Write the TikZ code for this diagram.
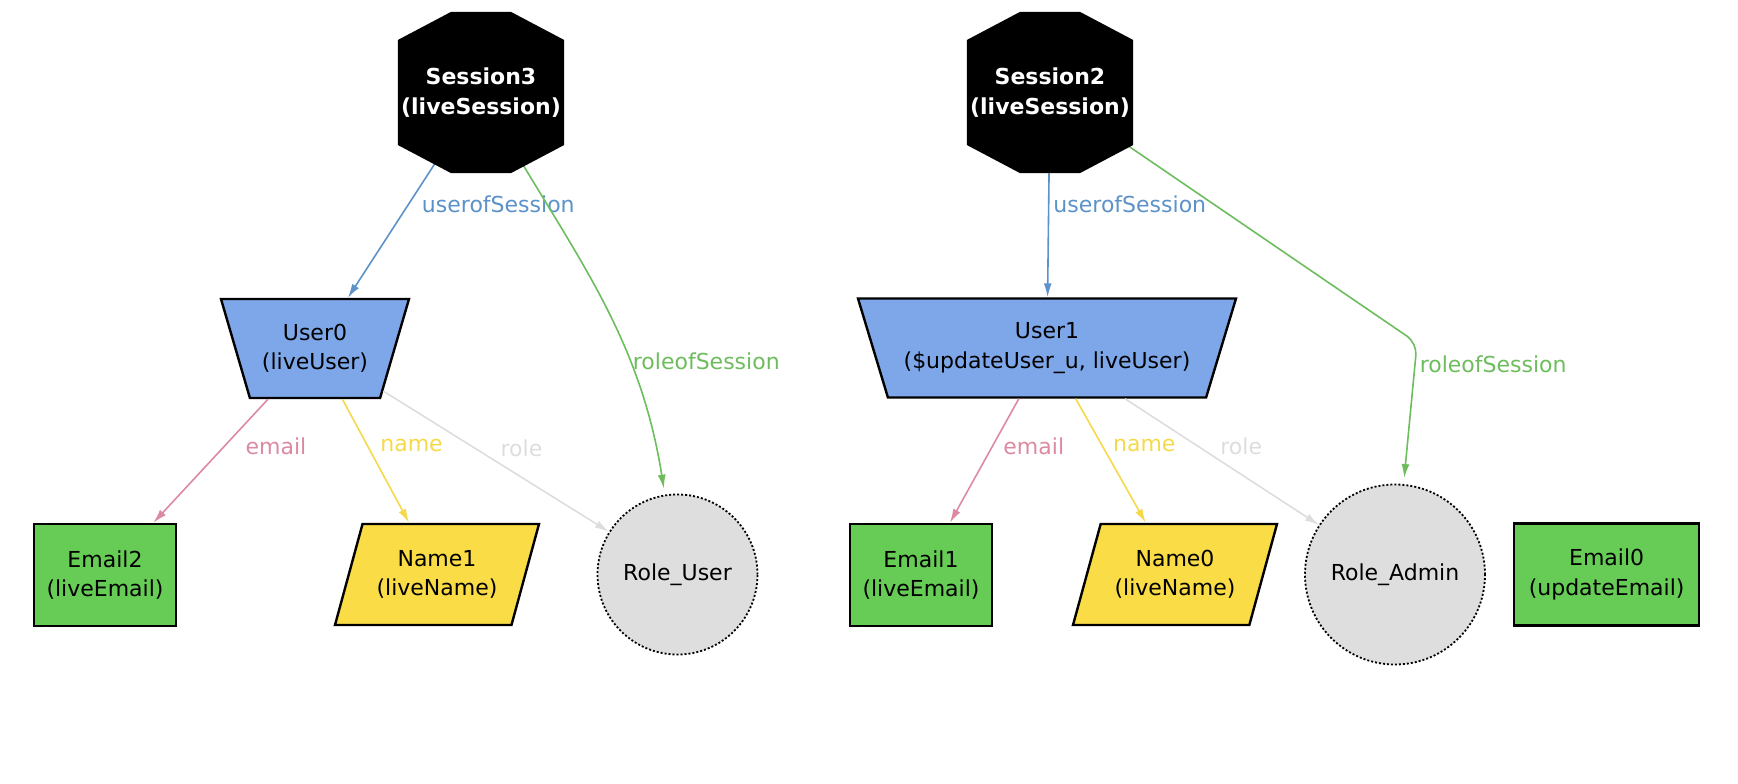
\documentclass[tikz,border=0pt]{standalone}
\usepackage{fontspec}
\setmainfont{DejaVu Sans}
\usepackage{tikz}
\usetikzlibrary{arrows.meta,positioning,calc,shapes.geometric,backgrounds}
\definecolor{ink}{HTML}{000000}
\definecolor{userblue}{HTML}{7DA7E9}
\definecolor{emailgreen}{HTML}{66CC55}
\definecolor{nameyellow}{HTML}{FADC46}
\definecolor{rolegray}{HTML}{DEDEDE}
\definecolor{useredge}{HTML}{5C92C8}
\definecolor{roleofedge}{HTML}{6DBD5E}
\definecolor{emailedge}{HTML}{DC8AA2}
\definecolor{nameedge}{HTML}{F6D94A}
\definecolor{roleedge}{HTML}{DDDDDD}
\tikzset{
  >=Latex,
  every node/.style={font=\fontsize{22}{29.5}\selectfont,text=ink},
  comp/.style={draw=ink,line width=2.4pt,align=center,inner sep=4pt},
  sessbox/.style={rectangle,align=center,text=white,font=\fontsize{22}{30}\selectfont\bfseries,
    minimum width=164pt,minimum height=161pt,
    path picture={\fill[black]
      ([xshift=53pt]path picture bounding box.north west) -- ([xshift=-53pt]path picture bounding box.north east)
      -- ([yshift=-28pt]path picture bounding box.north east) -- ([yshift=28pt]path picture bounding box.south east)
      -- ([xshift=-53pt]path picture bounding box.south east) -- ([xshift=53pt]path picture bounding box.south west)
      -- ([yshift=28pt]path picture bounding box.south west) -- ([yshift=-28pt]path picture bounding box.north west) -- cycle;}},
  userbox/.style={comp,trapezium,trapezium left angle=117,trapezium right angle=117,trapezium stretches body=true,fill=userblue,minimum height=99pt},
  emailbox/.style={comp,rectangle,fill=emailgreen,minimum height=102pt},
  namebox/.style={comp,trapezium,trapezium left angle=64,trapezium right angle=116,trapezium stretches body=true,fill=nameyellow,minimum width=204pt,minimum height=101pt},
  rolecirc/.style={circle,draw=ink,line width=1.8pt,dash pattern=on 2pt off 2pt,fill=rolegray,align=center},
  rel/.style={-{Latex[length=14pt,width=8pt]},line width=1.6pt},
  userof/.style={rel,draw=useredge},
  roleof/.style={rel,draw=roleofedge,shorten >=6pt},
  emailrel/.style={rel,draw=emailedge},
  namerel/.style={rel,draw=nameedge},
  rolerel/.style={rel,draw=roleedge},
  lbl/.style={anchor=west,inner sep=0pt,text=#1}
}
\begin{document}
\begin{tikzpicture}[x=1pt,y=1pt]
  \useasboundingbox (0,0) rectangle (1738,-784);
  % left session
  \node[sessbox] (s3) at (481,-92.5) {Session3\\(liveSession)};
  \node[userbox,minimum width=188pt] (u0) at (315,-348.5) {User0\\(liveUser)};
  \node[emailbox,minimum width=142pt] (e2) at (105,-575) {Email2\\(liveEmail)};
  \node[namebox] (n1) at (437,-574.5) {Name1\\(liveName)};
  \node[rolecirc,minimum size=160pt] (ru) at (677.5,-574.5) {Role\_User};

  % right session
  \node[sessbox] (s2) at (1050,-92.5) {Session2\\(liveSession)};
  \node[userbox,minimum width=378pt] (u1) at (1047,-348) {User1\\(\$updateUser\_u, liveUser)};
  \node[emailbox,minimum width=142pt] (e1) at (921,-575) {Email1\\(liveEmail)};
  \node[namebox] (n0) at (1175,-574.5) {Name0\\(liveName)};
  \node[rolecirc,minimum size=180pt] (ra) at (1395,-574.5) {Role\_Admin};
  \node[emailbox,minimum width=185pt,right=27pt of ra] (e0) {Email0\\(updateEmail)};

  % session edges start under the octagons
  \begin{scope}[on background layer]
    \draw[userof] (s3.center) -- node[lbl=useredge,pos=0.547,xshift=13pt]{userofSession} (u0);
    \draw[roleof] (s3.center) to[out=-61,in=99] node[lbl=roleofedge,pos=0.70,xshift=3pt]{roleofSession} (ru);
    \coordinate (bend2) at (1417,-343);
    \draw[userof] (s2.center) -- node[lbl=useredge,pos=0.547,xshift=4pt]{userofSession} (u1);
    \draw[roleof,rounded corners=12pt] (s2.center) -- (bend2) -- node[lbl=roleofedge,pos=0.15,xshift=4pt]{roleofSession} (ra);
  \end{scope}

  \draw[emailrel] (u0) -- node[lbl=emailedge,pos=0.377,xshift=20pt]{email} (e2);
  \draw[namerel] (u0) -- node[lbl=nameedge,pos=0.377,xshift=12pt]{name} (n1);
  \draw[rolerel] (u0) -- node[lbl=roleedge,pos=0.41,xshift=24pt]{role} (ru);
  \draw[emailrel] (u1) -- node[lbl=emailedge,pos=0.38,xshift=10pt]{email} (e1);
  \draw[namerel] (u1) -- node[lbl=nameedge,pos=0.38,xshift=10pt]{name} (n0);
  \draw[rolerel] (u1) -- node[lbl=roleedge,pos=0.38,xshift=21pt]{role} (ra);
\end{tikzpicture}
\end{document}
